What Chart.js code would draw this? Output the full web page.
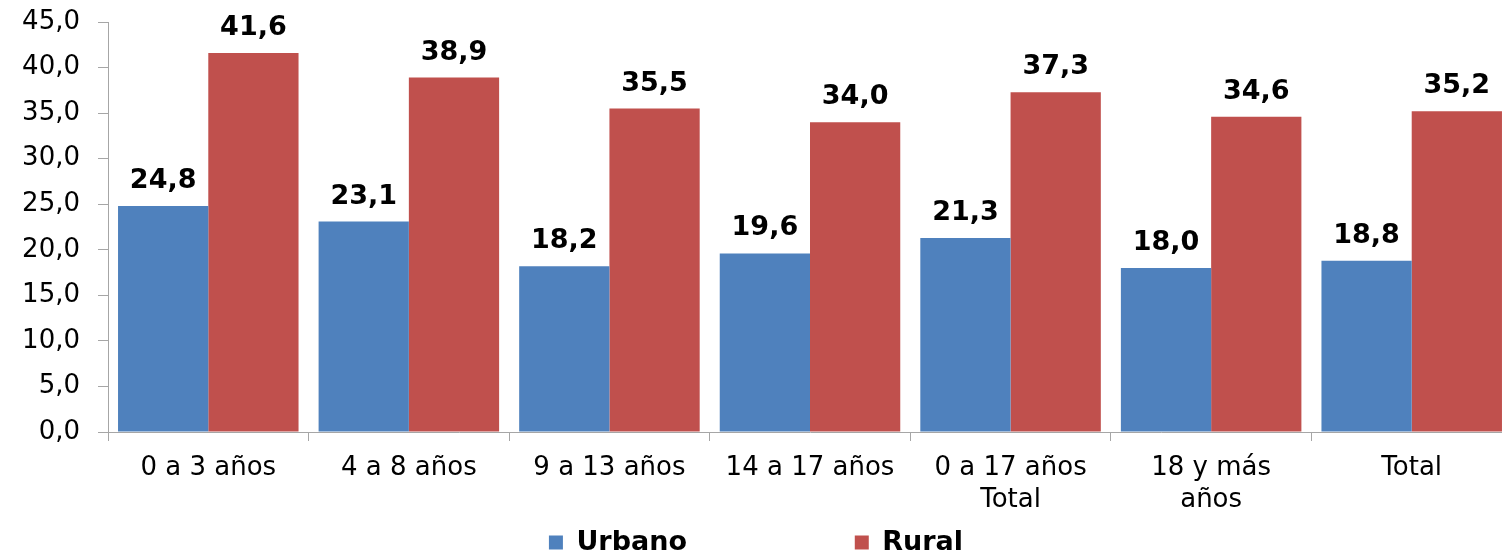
<!DOCTYPE html>
<html>
<head>
<meta charset="utf-8">
<script src="https://cdn.jsdelivr.net/npm/chart.js@4.4.0/dist/chart.umd.min.js"></script>
<style>
  html, body { margin: 0; padding: 0; background: #fff; overflow: hidden; }
  #wrap { position: absolute; left: 0; top: 0; width: 1512px; height: 566px; }
</style>
</head>
<body>
<div id="wrap"><canvas id="chart" width="1512" height="566"></canvas></div>
<script>
'use strict';

// Data
const categories = [
    ['0 a 3 años'],
    ['4 a 8 años'],
    ['9 a 13 años'],
    ['14 a 17 años'],
    ['0 a 17 años', 'Total'],
    ['18 y más', 'años'],
    ['Total']
];
const urbano = [24.8, 23.1, 18.2, 19.6, 21.3, 18.0, 18.8];
const rural = [41.6, 38.9, 35.5, 34.0, 37.3, 34.6, 35.2];
const seriesNames = ['Urbano', 'Rural'];
const yTicks = [0, 5, 10, 15, 20, 25, 30, 35, 40, 45];

const FONT = "'DejaVu Sans', Verdana, sans-serif";
const fmt = v => v.toFixed(1).replace('.', ',');

// Draw value labels above each bar
const valueLabels = {
    id: 'valueLabels',
    afterDatasetsDraw(chart) {
        const ctx = chart.ctx;
        ctx.save();
        ctx.font = 'bold 27px ' + FONT;
        ctx.fillStyle = '#000';
        ctx.textAlign = 'center';
        ctx.textBaseline = 'alphabetic';
        chart.data.datasets.forEach((ds, i) => {
            chart.getDatasetMeta(i).data.forEach((bar, j) => {
                ctx.fillText(fmt(ds.data[j]), bar.x, bar.y - 18);
            });
        });
        ctx.restore();
    }
};

new Chart(document.getElementById('chart'), {
    type: 'bar',
    data: {
        labels: categories,
        datasets: [
            { label: seriesNames[0], data: urbano, backgroundColor: '#4F81BD', categoryPercentage: 0.9, barPercentage: 1.0 },
            { label: seriesNames[1], data: rural, backgroundColor: '#C0504D', categoryPercentage: 0.9, barPercentage: 1.0 }
        ]
    },
    options: {
        responsive: false,
        animation: false,
        layout: { padding: { top: 22, right: 0, left: 0, bottom: 0 } },
        plugins: {
            tooltip: { enabled: false },
            legend: {
                position: 'bottom',
                labels: {
                    font: { family: FONT, size: 27, weight: 'bold' },
                    color: '#000',
                    boxWidth: 14,
                    boxHeight: 14,
                    padding: 8,
                    generateLabels(chart) {
                        // pad the first entry so the second sits far to the right, as in the original
                        return chart.data.datasets.map((ds, i) => ({
                            text: i === 0 ? ds.label + '\u00a0'.repeat(17) : ds.label,
                            fillStyle: ds.backgroundColor,
                            strokeStyle: ds.backgroundColor,
                            lineWidth: 0,
                            datasetIndex: i
                        }));
                    }
                }
            }
        },
        scales: {
            x: {
                grid: { display: true, drawOnChartArea: false, tickLength: 9, color: '#A6A6A6', offset: true },
                border: { color: '#A6A6A6' },
                ticks: { font: { family: FONT, size: 26 }, color: '#000', padding: 12, maxRotation: 0, autoSkip: false },
                afterFit(scale) { scale.height = 89; }
            },
            y: {
                min: 0,
                max: 45,
                afterBuildTicks(scale) { scale.ticks = yTicks.map(v => ({ value: v })); },
                grid: { display: true, drawOnChartArea: false, tickLength: 10, color: '#A6A6A6' },
                border: { color: '#A6A6A6' },
                ticks: { font: { family: FONT, size: 26 }, color: '#000', padding: 18, callback: v => fmt(v) },
                afterFit(scale) {
                    scale.width = 108;
                    scale.paddingTop = 0;
                    scale.paddingBottom = 0;
                }
            }
        }
    },
    plugins: [valueLabels]
});
</script>
</body>
</html>
